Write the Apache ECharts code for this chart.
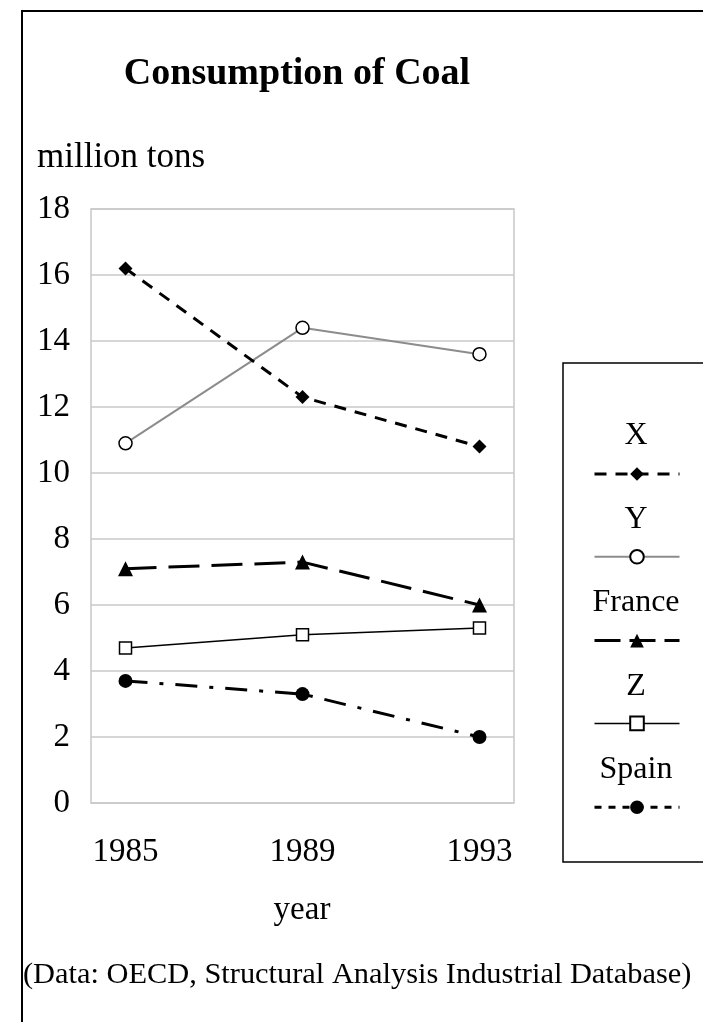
<!DOCTYPE html>
<html>
<head>
<meta charset="utf-8">
<script src="https://cdn.jsdelivr.net/npm/echarts@6/dist/echarts.min.js"></script>
<style>
  html, body { margin: 0; padding: 0; background: #fff; }
  #main { width: 703px; height: 1022px; }
</style>
</head>
<body>
<div id="main"></div>
<script>
let years = [1985, 1989, 1993]
let names = ['X', 'Y', 'France', 'Z', 'Spain']
let xData = [16.2, 12.3, 10.8]
let yData = [10.9, 14.4, 13.6]
let franceData = [7.1, 7.3, 6.0]
let zData = [4.7, 5.1, 5.3]
let spainData = [3.7, 3.3, 2.0]
let yTicks = [0, 2, 4, 6, 8, 10, 12, 14, 16, 18]

let font = '"Liberation Serif", "DejaVu Serif", serif'

function pairs(values) {
  return years.map(function (yr, i) {
    return [yr, values[i]]
  })
}

function label(text, x, y, size, align, weight) {
  return {
    type: 'text',
    x: x,
    y: y,
    silent: true,
    style: {
      text: text,
      font: (weight || 'normal') + ' ' + size + 'px ' + font,
      fill: '#000',
      align: align,
      verticalAlign: 'middle'
    }
  }
}

let texts = [
  label('Consumption of Coal', 297, 74, 38, 'center', 'bold'),
  label('million tons', 37, 158, 35, 'left'),
  label('year', 302, 910, 33, 'center'),
  label('(Data: OECD, Structural Analysis Industrial Database)', 23, 975, 30.4, 'left')
].concat(names.map(function (n, i) {
  return label(n, 636, 436 + i * 83.5, 32, 'center')
}))

let chart = echarts.init(document.getElementById('main'))
let option = {
  animation: false,
  backgroundColor: '#fff',
  textStyle: {fontFamily: font, color: '#000'},
  grid: {
    left: 91,
    right: 189,
    top: 209,
    bottom: 219,
    show: true,
    borderColor: '#c8c8c8',
    borderWidth: 1.5
  },
  xAxis: {
    type: 'value',
    min: 1984.22,
    max: 1993.78,
    splitLine: {show: false},
    axisLine: {show: false},
    axisTick: {show: false},
    axisLabel: {
      customValues: years,
      formatter: function (v) { return String(v) },
      margin: 33,
      fontSize: 33,
      fontFamily: font,
      color: '#000'
    }
  },
  yAxis: {
    type: 'value',
    min: yTicks[0],
    max: yTicks[yTicks.length - 1],
    interval: 2,
    axisLine: {show: false},
    axisTick: {show: false},
    splitLine: {lineStyle: {color: '#c8c8c8', width: 1.5}},
    axisLabel: {margin: 21, fontSize: 33, fontFamily: font, color: '#000'}
  },
  legend: {
    orient: 'vertical',
    left: 593,
    top: 465.5,
    padding: 0,
    itemWidth: 85,
    itemHeight: 17,
    itemGap: 67.5,
    formatter: function () { return '' },
    data: [
      {name: 'X', lineStyle: {width: 3, type: [12, 9]}},
      {name: 'Y', lineStyle: {width: 2}},
      {name: 'France', lineStyle: {width: 3, type: [26, 9]}},
      {name: 'Z', lineStyle: {width: 1.5}},
      {name: 'Spain', lineStyle: {width: 3, type: [7, 7]}}
    ]
  },
  graphic: [
    {
      type: 'rect',
      shape: {x: 22, y: 11, width: 900, height: 1100},
      style: {fill: 'none', stroke: '#000', lineWidth: 2},
      silent: true
    },
    {
      type: 'rect',
      shape: {x: 563, y: 363, width: 300, height: 499},
      style: {fill: 'none', stroke: '#000', lineWidth: 1.5},
      silent: true
    }
  ].concat(texts),
  series: [
    {
      name: 'X',
      type: 'line',
      data: pairs(xData),
      symbol: 'diamond',
      symbolSize: 14,
      itemStyle: {color: '#000'},
      lineStyle: {color: '#000', width: 3, type: [12, 9]},
      z: 5
    },
    {
      name: 'Y',
      type: 'line',
      data: pairs(yData),
      symbol: 'circle',
      symbolSize: 13,
      itemStyle: {color: '#fff', borderColor: '#000', borderWidth: 1.5},
      lineStyle: {color: '#8c8c8c', width: 2}
    },
    {
      name: 'France',
      type: 'line',
      data: pairs(franceData),
      symbol: 'triangle',
      symbolSize: 15,
      itemStyle: {color: '#000'},
      lineStyle: {color: '#000', width: 3, type: [31, 12]}
    },
    {
      name: 'Z',
      type: 'line',
      data: pairs(zData),
      symbol: 'rect',
      symbolSize: 12,
      itemStyle: {color: '#fff', borderColor: '#000', borderWidth: 1.5},
      lineStyle: {color: '#000', width: 1.5}
    },
    {
      name: 'Spain',
      type: 'line',
      data: pairs(spainData),
      symbol: 'circle',
      symbolSize: 14,
      itemStyle: {color: '#000'},
      lineStyle: {color: '#000', width: 3, type: [22, 12, 4, 12]}
    }
  ]
}
chart.setOption(option)
</script>
</body>
</html>
